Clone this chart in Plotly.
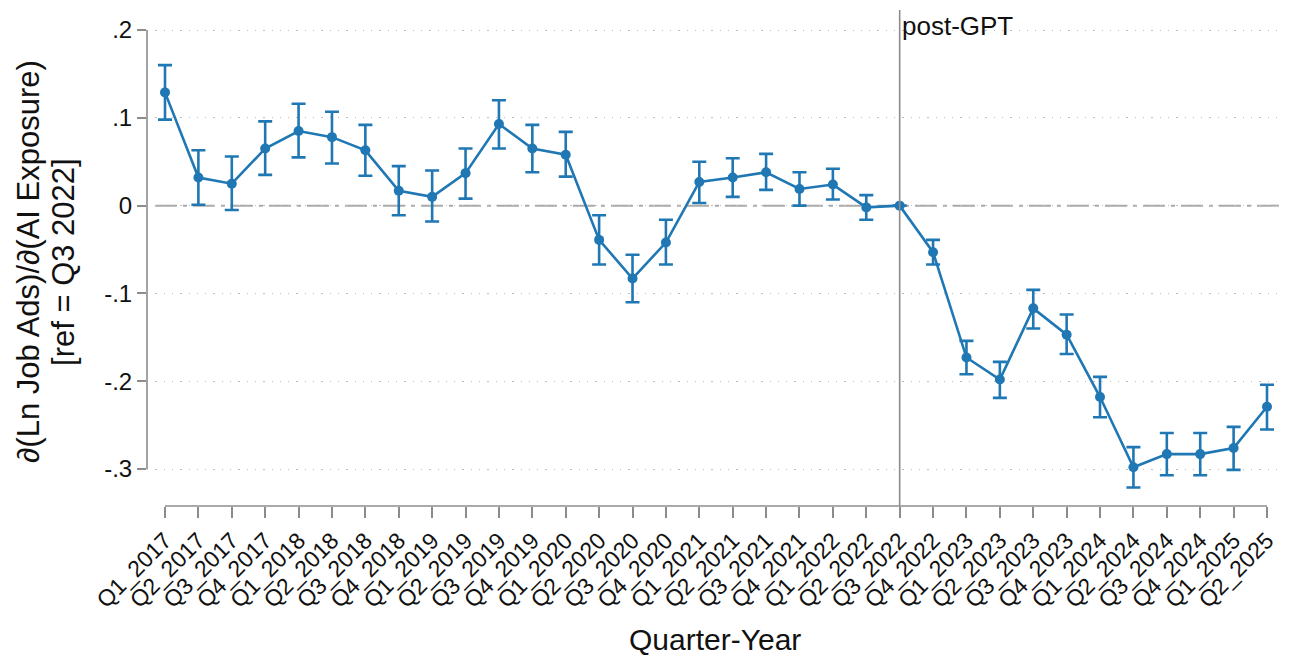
import plotly.graph_objects as go

quarters = ["Q1_2017", "Q2_2017", "Q3_2017", "Q4_2017",
            "Q1_2018", "Q2_2018", "Q3_2018", "Q4_2018",
            "Q1_2019", "Q2_2019", "Q3_2019", "Q4_2019",
            "Q1_2020", "Q2_2020", "Q3_2020", "Q4_2020",
            "Q1_2021", "Q2_2021", "Q3_2021", "Q4_2021",
            "Q1_2022", "Q2_2022", "Q3_2022", "Q4_2022",
            "Q1_2023", "Q2_2023", "Q3_2023", "Q4_2023",
            "Q1_2024", "Q2_2024", "Q3_2024", "Q4_2024",
            "Q1_2025", "Q2_2025"]

coef = [0.129, 0.032, 0.025, 0.065,
        0.085, 0.078, 0.063, 0.017,
        0.010, 0.037, 0.093, 0.065,
        0.058, -0.039, -0.083, -0.042,
        0.027, 0.032, 0.038, 0.019,
        0.024, -0.002, 0.0, -0.053,
        -0.173, -0.198, -0.117, -0.147,
        -0.218, -0.298, -0.283, -0.283,
        -0.276, -0.229]

ci_upper = [0.160, 0.063, 0.056, 0.096,
            0.116, 0.107, 0.092, 0.045,
            0.040, 0.065, 0.120, 0.092,
            0.084, -0.011, -0.056, -0.016,
            0.050, 0.054, 0.059, 0.038,
            0.042, 0.012, None, -0.039,
            -0.154, -0.178, -0.096, -0.124,
            -0.195, -0.275, -0.259, -0.259,
            -0.252, -0.204]

ci_lower = [0.098, 0.001, -0.005, 0.035,
            0.055, 0.048, 0.034, -0.011,
            -0.018, 0.008, 0.065, 0.038,
            0.033, -0.067, -0.110, -0.067,
            0.003, 0.010, 0.018, 0.000,
            0.007, -0.016, None, -0.067,
            -0.192, -0.219, -0.140, -0.169,
            -0.241, -0.321, -0.307, -0.307,
            -0.301, -0.255]

y_tickvals = [0.2, 0.1, 0.0, -0.1, -0.2, -0.3]
y_ticktext = [".2", ".1", "0", "-.1", "-.2", "-.3"]

event_quarter = "Q3_2022"
event_label = "post-GPT"
x_title = "Quarter-Year"
y_title_lines = ["\u2202(Ln Job Ads)/\u2202(AI Exposure)", "[ref = Q3 2022]"]

BLUE = "#1f77b4"
FONT = "Liberation Sans, Arial, sans-serif"

err_plus = [None if u is None else u - c for u, c in zip(ci_upper, coef)]
err_minus = [None if l is None else c - l for l, c in zip(ci_lower, coef)]

xi = list(range(len(quarters)))

fig = go.Figure()
fig.add_trace(go.Scatter(
    x=xi, y=coef, mode="lines+markers",
    line=dict(color=BLUE, width=2.6),
    marker=dict(color=BLUE, size=10),
    error_y=dict(type="data", array=err_plus, arrayminus=err_minus,
                 symmetric=False, color=BLUE, thickness=2.6, width=7),
    showlegend=False,
))

event_idx = quarters.index(event_quarter)
ymin, ymax = -0.3421, 0.2251

W, H = 1277, 650
L, R, T, B = 139, 2, 0, 152
PW = W - L - R
PH = H - T - B

shapes = [
    dict(type="line", xref="paper", yref="y", x0=0.007, x1=0.9985, y0=0, y1=0,
         line=dict(color="#a9a9a9", width=2, dash="22px,6px,4px,6px"), layer="below"),
    dict(type="line", xref="paper", yref="y", x0=0, x1=0, y0=-0.3, y1=0.2,
         line=dict(color="#8c8c8c", width=1.6)),
    dict(type="line", xref="x", yref="paper", x0=0, x1=len(quarters) - 1, y0=0, y1=0,
         line=dict(color="#8c8c8c", width=1.6)),
    dict(type="line", xref="x", yref="paper", x0=event_idx, x1=event_idx, y0=0, y1=0.996,
         line=dict(color="#8c8c8c", width=1.6)),
]

annotations = [
    dict(text=event_label, xref="x", yref="paper", x=event_idx, y=0.998,
         xanchor="left", yanchor="top", xshift=0, showarrow=False,
         font=dict(family=FONT, size=26, color="#111111")),
    dict(text=x_title, xref="paper", yref="paper", x=0.5, y=(PH - 631) / PH,
         xanchor="center", yanchor="middle", showarrow=False,
         font=dict(family=FONT, size=30, color="#111111")),
    dict(text=y_title_lines[0], xref="paper", yref="paper", x=(21 - L) / PW, y=0.49,
         xanchor="center", yanchor="middle", textangle=-90, showarrow=False,
         font=dict(family=FONT, size=31, color="#111111")),
    dict(text=y_title_lines[1], xref="paper", yref="paper", x=(56 - L) / PW, y=0.49,
         xanchor="center", yanchor="middle", textangle=-90, showarrow=False,
         font=dict(family=FONT, size=31, color="#111111")),
]

fig.update_layout(
    width=W, height=H,
    margin=dict(l=L, r=R, t=T, b=B),
    plot_bgcolor="white", paper_bgcolor="white",
    font=dict(family=FONT, color="#111111"),
    shapes=shapes, annotations=annotations,
    xaxis=dict(
        range=[-0.539, 33.479], tickmode="array", tickvals=xi, ticktext=quarters,
        tickangle=-45, ticks="outside", ticklen=11, tickcolor="#8c8c8c", tickwidth=1.6,
        showgrid=False, zeroline=False, showline=False,
        tickfont=dict(family=FONT, size=23, color="#111111"),
    ),
    yaxis=dict(
        range=[ymin, ymax], tickmode="array", tickvals=y_tickvals, ticktext=y_ticktext,
        ticks="outside", ticklen=9, tickcolor="#8c8c8c", tickwidth=1.6,
        showgrid=True, gridcolor="#bdbdbd", gridwidth=1.3, griddash="1.3px,7px",
        zeroline=False, showline=False,
        tickfont=dict(family=FONT, size=24, color="#111111"),
    ),
)

fig.write_html("out.html")
